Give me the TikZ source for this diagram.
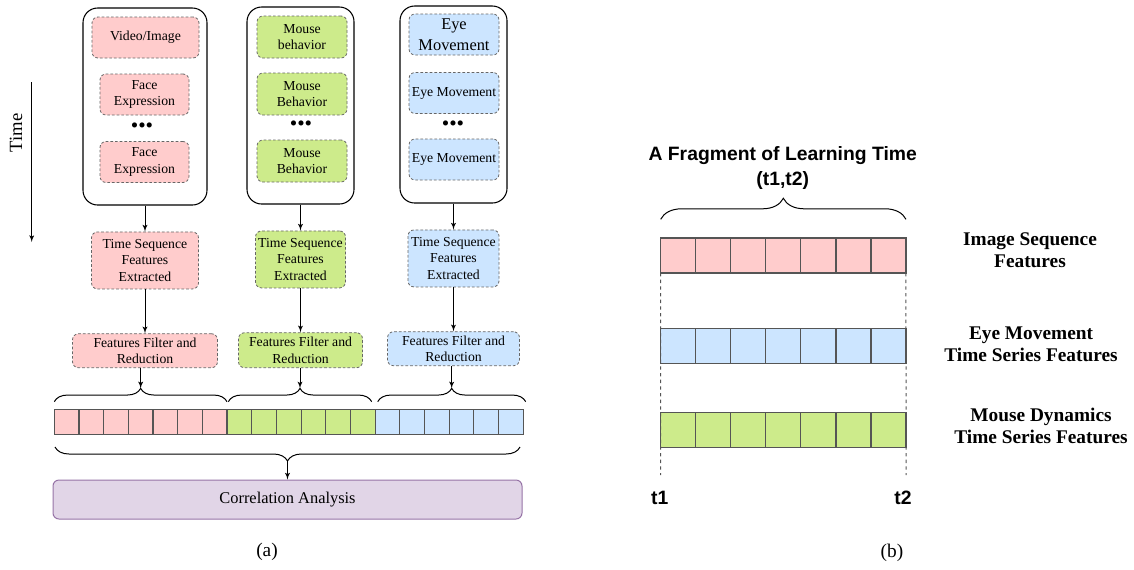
\documentclass[tikz,border=0pt]{standalone}
\usepackage{fontspec}
\setmainfont{Liberation Serif}
\newfontfamily\headfont{Liberation Sans}
\usetikzlibrary{arrows,positioning,decorations.pathreplacing}
\definecolor{pinkf}{HTML}{FFCCCC}
\definecolor{greenf}{HTML}{CDEB8B}
\definecolor{bluef}{HTML}{CCE5FF}
\definecolor{purplef}{HTML}{E1D5E7}
\definecolor{purpled}{HTML}{9673A6}
\definecolor{edgegray}{HTML}{666666}
\definecolor{cellgray}{HTML}{555555}

\begin{document}
\begin{tikzpicture}[x=0.75pt,y=-0.75pt,>=latex']
	\tikzset{outerbox/.style={draw, line width=0.8pt, rounded corners=11pt, minimum width=#1, minimum height=147.75pt},
		featbox/.style={draw=edgegray, dash pattern=on 2pt off 1.5pt, line width=0.6pt, rounded corners=4.5pt,
			align=center, inner sep=1pt, font=\fontsize{10.3}{12.2}\selectfont},
		dots/.style={inner sep=0pt, font=\fontsize{16}{16}\selectfont},
		cellbox/.style={draw=cellgray, line width=0.9pt, minimum width=18.51pt, minimum height=18.75pt, inner sep=0pt, outer sep=0pt},
		bigcell/.style={draw=cellgray, line width=0.9pt, minimum width=26.28pt, minimum height=26.25pt, inner sep=0pt, outer sep=0pt},
		brc/.style={decorate, decoration={brace, amplitude=#1}, line width=0.75pt},
		rlabel/.style={align=center, font=\bfseries\fontsize{14.5}{16.5}\selectfont},
		hlabel/.style={align=center, font=\headfont\bfseries\fontsize{14.5}{19}\selectfont},
		caption/.style={font=\fontsize{14.5}{16}\selectfont},
	}
	\useasboundingbox (0,0) rectangle (1134,569);

	% (a) time axis
	\coordinate (ttop) at (31.7,82);
	\coordinate (tbot) at (31.7,242);
	\draw[->, line width=0.75pt] (ttop) -- (tbot);
	\node [rotate=90, font=\fontsize{14}{14}\selectfont] (time) at (16,133) {Time};

	% (a) raw data columns
	\node [outerbox=93pt] (o1) at (145,106.5) {};
	\node [outerbox=80.25pt] (o2) at (300.5,105.5) {};
	\node [outerbox=80.25pt] (o3) at (453.5,104.5) {};
	\node [featbox, fill=pinkf, minimum width=80.25pt, minimum height=30.75pt] (vi) at (145.5,37.5) {Video/Image};
	\node [featbox, fill=pinkf, minimum width=66.75pt, minimum height=30.75pt] (fe1) at (144.5,94.5) {Face\\Expression};
	\node [dots] (dt1) at (142,128) {•••};
	\node [featbox, fill=pinkf, minimum width=66.75pt, minimum height=30.75pt] (fe2) at (144.5,162) {Face\\Expression};
	\node [featbox, fill=greenf, minimum width=67.5pt, minimum height=31.5pt] (mb1) at (302,37) {Mouse\\behavior};
	\node [featbox, fill=greenf, minimum width=67.5pt, minimum height=31.5pt] (mb2) at (302,94) {Mouse\\Behavior};
	\node [dots] (dt2) at (301,126) {•••};
	\node [featbox, fill=greenf, minimum width=67.5pt, minimum height=31.5pt] (mb3) at (302,161) {Mouse\\Behavior};
	\node [featbox, fill=bluef, minimum width=67.5pt, minimum height=30.75pt, font=\fontsize{12.3}{15.5}\selectfont] (em1) at (454,34.5) {Eye\\Movement};
	\node [featbox, fill=bluef, minimum width=67.5pt, minimum height=30.75pt] (em2) at (454,93) {Eye Movement};
	\node [dots] (dt3) at (453,126) {•••};
	\node [featbox, fill=bluef, minimum width=67.5pt, minimum height=30.75pt] (em3) at (454,159.5) {Eye Movement};

	% (a) extraction and filtering
	\node [featbox, fill=pinkf, minimum width=80.25pt, minimum height=42.75pt, below=19.5pt of o1] (ts1) {Time Sequence\\Features\\Extracted};
	\node [featbox, fill=greenf, minimum width=67.5pt, minimum height=42.75pt, below=19.5pt of o2] (ts2) {Time Sequence\\Features\\Extracted};
	\node [featbox, fill=bluef, minimum width=68.25pt, minimum height=42.75pt, below=19.5pt of o3] (ts3) {Time Sequence\\Features\\Extracted};
	\node [featbox, fill=pinkf, minimum width=108.75pt, minimum height=25.5pt, below=33pt of ts1] (ff1) {Features Filter and\\Reduction};
	\node [featbox, fill=greenf, minimum width=93pt, minimum height=26.25pt, below=33pt of ts2] (ff2) {Features Filter and\\Reduction};
	\node [featbox, fill=bluef, minimum width=99pt, minimum height=25.5pt, below=33pt of ts3] (ff3) {Features Filter and\\Reduction};
	\draw[->, line width=0.75pt] (o1) -- (ts1);
	\draw[->, line width=0.75pt] (o2) -- (ts2);
	\draw[->, line width=0.75pt] (o3) -- (ts3);
	\draw[->, line width=0.75pt] (ts1) -- (ff1);
	\draw[->, line width=0.75pt] (ts2) -- (ff2);
	\draw[->, line width=0.75pt] (ts3) -- (ff3);

	% (a) fused feature strip
	\foreach \i in {0,...,6}
		\node [cellbox, fill=pinkf] (s\i) at ({54.3+24.68*(\i+0.5)},421.8) {};
	\foreach \i in {7,...,12}
		\node [cellbox, fill=greenf] (s\i) at ({54.3+24.68*(\i+0.5)},421.8) {};
	\foreach \i in {13,...,18}
		\node [cellbox, fill=bluef] (s\i) at ({54.3+24.68*(\i+0.5)},421.8) {};
	\draw[brc=10pt] (54.3,401.7) -- (227,401.7) coordinate[pos=0.5] (bm1);
	\draw[brc=10pt] (228.3,401.7) -- (371.7,401.7) coordinate[pos=0.5] (bm2);
	\draw[brc=10pt] (377.7,401.7) -- (525.7,401.7) coordinate[pos=0.5] (bm3);
	\coordinate (bt1) at ([yshift=10pt]bm1);
	\coordinate (bt2) at ([yshift=10pt]bm2);
	\coordinate (bt3) at ([yshift=10pt]bm3);
	\draw[->, line width=0.75pt] (ff1.south -| bt1) -- (bt1);
	\draw[->, line width=0.75pt] (ff2.south -| bt2) -- (bt2);
	\draw[->, line width=0.75pt] (ff3.south -| bt3) -- (bt3);
	\draw[brc=10.5pt] (520,447) -- (55,447);
	\coordinate (bt4) at (287.5,461);

	\node [draw=purpled, fill=purplef, line width=0.75pt, rounded corners=4.5pt, minimum width=351.75pt, minimum height=29.25pt,
		font=\fontsize{12.3}{14}\selectfont] (corr) at (287.5,499.5) {Correlation Analysis};
	\draw[->, line width=0.75pt] (bt4) -- (corr);
	\node [caption] (capa) at (267,552) {(a)};

	% (b) one learning fragment
	\node [hlabel] (title) at (782.7,168) {A Fragment of Learning Time\\(t1,t2)};
	\draw[brc=15.75pt] (660.7,219.3) -- (906,219.3);
	\foreach \i in {0,...,6} {
		\node [bigcell, fill=pinkf] (p\i) at ({660.7+35.04*(\i+0.5)},255.5) {};
		\node [bigcell, fill=bluef] (q\i) at ({660.7+35.04*(\i+0.5)},346.2) {};
		\node [bigcell, fill=greenf] (r\i) at ({660.7+35.04*(\i+0.5)},430.2) {};
	}
	\coordinate (d1) at (660.7,475);
	\coordinate (d2) at (906,475);
	\draw[dashed, line width=0.75pt, dash pattern=on 2.5pt off 2.5pt, cellgray] (p0.south west) -- (d1);
	\draw[dashed, line width=0.75pt, dash pattern=on 2.5pt off 2.5pt, cellgray] (p6.south east) -- (d2);
	\node [hlabel] (t1) at (659.7,498) {t1};
	\node [hlabel] (t2) at (903,498) {t2};
	\node [rlabel] (lab1) at (1030,250.3) {Image Sequence\\Features};
	\node [rlabel] (lab2) at (1031,344) {Eye Movement\\Time Series Features};
	\node [rlabel] (lab3) at (1041,425.4) {Mouse Dynamics\\Time Series Features};
	\node [caption] (capb) at (892,553) {(b)};
\end{tikzpicture}
\end{document}
